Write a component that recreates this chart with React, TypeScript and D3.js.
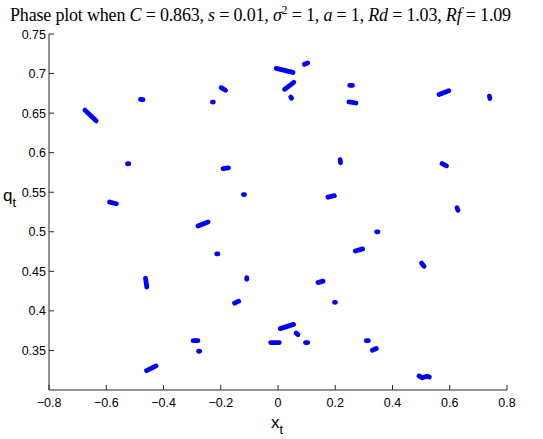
import React from "react";
import * as d3 from "d3";

// Each cluster of the phase plot: a short chain of (x_t, q_t) points
const clusters: [number, number][][] = [
  [[-0.678, 0.655], [-0.632, 0.639]],
  [[-0.485, 0.6675], [-0.467, 0.667]],
  [[-0.528, 0.586], [-0.519, 0.586]],
  [[-0.593, 0.538], [-0.56, 0.535]],
  [[-0.231, 0.664], [-0.224, 0.664]],
  [[-0.203, 0.683], [-0.179, 0.678]],
  [[-0.197, 0.5795], [-0.168, 0.581]],
  [[-0.123, 0.547], [-0.115, 0.547]],
  [[-0.011, 0.707], [0.057, 0.701]],
  [[0.088, 0.711], [0.108, 0.714]],
  [[0.019, 0.679], [0.059, 0.69]],
  [[0.043, 0.671], [0.049, 0.668]],
  [[0.246, 0.685], [0.265, 0.685]],
  [[0.243, 0.6645], [0.277, 0.6625]],
  [[0.558, 0.673], [0.601, 0.679]],
  [[0.738, 0.673], [0.741, 0.667]],
  [[0.2166, 0.593], [0.219, 0.5855]],
  [[0.569, 0.587], [0.593, 0.5825]],
  [[0.17, 0.5433], [0.2016, 0.546]],
  [[0.624, 0.532], [0.63, 0.5256]],
  [[-0.284, 0.5067], [-0.24, 0.513]],
  [[-0.216, 0.472], [-0.208, 0.472]],
  [[-0.109, 0.443], [-0.109, 0.439]],
  [[-0.4635, 0.443], [-0.4576, 0.4284]],
  [[-0.156, 0.409], [-0.133, 0.413]],
  [[0.0035, 0.377], [0.059, 0.3835]],
  [[-0.3015, 0.3624], [-0.275, 0.3624]],
  [[-0.279, 0.349], [-0.272, 0.349]],
  [[-0.0304, 0.36], [0.0094, 0.36]],
  [[-0.4635, 0.3236], [-0.4217, 0.3312]],
  [[0.342, 0.5], [0.352, 0.5]],
  [[0.2655, 0.4751], [0.3004, 0.4789]],
  [[0.4985, 0.4617], [0.5135, 0.455]],
  [[0.135, 0.4352], [0.162, 0.4381]],
  [[0.196, 0.4108], [0.202, 0.4108]],
  [[0.06, 0.373], [0.073, 0.369]],
  [[0.0919, 0.36], [0.108, 0.36]],
  [[0.305, 0.3624], [0.319, 0.3624]],
  [[0.325, 0.3497], [0.348, 0.353]],
  [[0.489, 0.3186], [0.503, 0.3155], [0.521, 0.3174], [0.531, 0.316]],
];

const xTicks = [-0.8, -0.6, -0.4, -0.2, 0, 0.2, 0.4, 0.6, 0.8];
const yTicks = [0.35, 0.4, 0.45, 0.5, 0.55, 0.6, 0.65, 0.7, 0.75];
const xDomain: [number, number] = [-0.8, 0.8];
const yDomain: [number, number] = [0.3, 0.75];

export default function App() {
  const W = 543, H = 439;
  const left = 49, right = 507, top = 34, bottom = 390;
  const x = d3.scaleLinear().domain(xDomain).range([left, right]);
  const y = d3.scaleLinear().domain(yDomain).range([bottom, top]);
  const sw = 4.8;
  const axisColor = "#262626";
  const sans = "'Liberation Sans', Arial, Helvetica, sans-serif";
  const serif = "'Liberation Serif', 'Times New Roman', serif";
  const fmt = (v: number) => (v < 0 ? "\u2212" : "") + String(Math.abs(v));

  // pixel path for a cluster; the measured extents are outer edges, so pull the
  // end points in a little to account for the round caps
  const pathFor = (c: [number, number][]) => {
    const pts = c.map((d) => [x(d[0]), y(d[1])] as [number, number]);
    const inset = 1.4;
    const shrink = (a: [number, number], b: [number, number]): [number, number] => {
      const dx = b[0] - a[0], dy = b[1] - a[1];
      const L = Math.hypot(dx, dy);
      if (L === 0) return a;
      const m = Math.min(inset, L / 4);
      return [a[0] + (dx / L) * m, a[1] + (dy / L) * m];
    };
    const n = pts.length;
    const first = shrink(pts[0], pts[1]);
    const last = shrink(pts[n - 1], pts[n - 2]);
    const out = [first, ...pts.slice(1, n - 1), last];
    return d3.line()(out) || "";
  };

  return (
    <svg width={W} height={H} style={{ position: "absolute", left: 0, top: 0, background: "#fff" }}>
      <text x={10} y={20.5} fontFamily={serif} fontSize={18} fill="#000" textLength={501} lengthAdjust="spacing">
        Phase plot when <tspan fontStyle="italic">C</tspan> = 0.863, <tspan fontStyle="italic">s</tspan> = 0.01,{" "}
        <tspan fontStyle="italic">σ</tspan>
        <tspan fontSize={12} dy={-7}>2</tspan>
        <tspan dy={7}> = 1, </tspan>
        <tspan fontStyle="italic">a</tspan> = 1, <tspan fontStyle="italic">Rd</tspan> = 1.03,{" "}
        <tspan fontStyle="italic">Rf</tspan> = 1.09
      </text>

      {/* axes */}
      <line x1={left} y1={top} x2={left} y2={bottom} stroke={axisColor} strokeWidth={1} />
      <line x1={left} y1={bottom} x2={right} y2={bottom} stroke={axisColor} strokeWidth={1} />
      {xTicks.map((t) => (
        <g key={"x" + t}>
          <line x1={x(t)} x2={x(t)} y1={bottom} y2={bottom - 5} stroke={axisColor} />
          <text x={x(t)} y={407} textAnchor="middle" fontFamily={sans} fontSize={12.5} fill="#000">
            {fmt(t)}
          </text>
        </g>
      ))}
      {yTicks.map((t) => (
        <g key={"y" + t}>
          <line x1={left} x2={left + 5} y1={y(t)} y2={y(t)} stroke={axisColor} />
          <text x={46} y={y(t) + 4.5} textAnchor="end" fontFamily={sans} fontSize={12.5} fill="#000">
            {String(t)}
          </text>
        </g>
      ))}

      {/* axis labels */}
      <text x={271} y={428} fontFamily={sans} fontSize={17} fill="#000">
        x<tspan fontSize={13} dy={6}>t</tspan>
      </text>
      <text x={3} y={201} fontFamily={sans} fontSize={17} fill="#000">
        q<tspan fontSize={13} dy={6}>t</tspan>
      </text>

      {/* data */}
      {clusters.map((c, i) => (
        <path key={i} d={pathFor(c)} fill="none" stroke="#0000ff" strokeWidth={sw} strokeLinecap="round" strokeLinejoin="round" />
      ))}
    </svg>
  );
}
